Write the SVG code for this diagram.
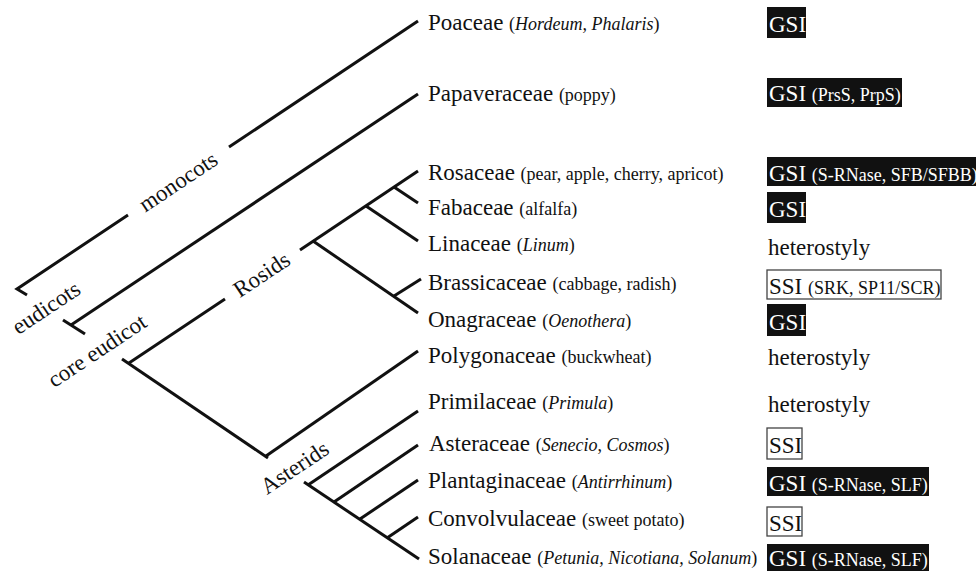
<svg xmlns="http://www.w3.org/2000/svg" width="976" height="571" viewBox="0 0 976 571">
<style>
.t{font-family:"Liberation Serif","Times New Roman",serif;font-size:23px;fill:#111}
.s{font-size:18px}
.i{font-style:italic}
.w{fill:#fff}
.bk{fill:#111}
.ol{fill:#fff;stroke:#444;stroke-width:1.3}
.br{fill:none;stroke:#111;stroke-width:3;stroke-linecap:butt;stroke-linejoin:miter}
</style>
<rect width="976" height="571" fill="#fff"/>
<g id="connectors">
  <polyline class="br" points="27,295 17,289 128,215"/>
  <line class="br" x1="229" y1="147" x2="418" y2="21"/>
  <line class="br" x1="63" y1="320" x2="85" y2="334"/>
  <line class="br" x1="71" y1="325" x2="418" y2="94"/>
  <line class="br" x1="122" y1="359" x2="268" y2="458"/>
  <line class="br" x1="129" y1="363" x2="225" y2="299"/>
  <line class="br" x1="300" y1="250" x2="418" y2="171"/>
  <line class="br" x1="313" y1="241" x2="418" y2="313"/>
  <line class="br" x1="366" y1="206" x2="418" y2="241"/>
  <line class="br" x1="394" y1="187" x2="418" y2="203"/>
  <line class="br" x1="394" y1="296" x2="421" y2="279"/>
  <line class="br" x1="266" y1="456" x2="418" y2="351"/>
  <line class="br" x1="304" y1="482" x2="419" y2="559"/>
  <line class="br" x1="308" y1="485" x2="418" y2="411"/>
  <line class="br" x1="334" y1="502" x2="418" y2="445"/>
  <line class="br" x1="360" y1="519" x2="418" y2="480"/>
  <line class="br" x1="387" y1="538" x2="418" y2="517"/>
</g>
<g id="clade-labels">
  <text class="t" text-anchor="middle" transform="translate(179,183) rotate(-33.7)" y="6">monocots</text>
  <text class="t" text-anchor="middle" transform="translate(47,309) rotate(-33.7)" y="6">eudicots</text>
  <text class="t" text-anchor="middle" transform="translate(98,352) rotate(-33.7)" y="6">core eudicot</text>
  <text class="t" text-anchor="middle" transform="translate(262,275) rotate(-33.7)" y="7">Rosids</text>
  <text class="t" text-anchor="middle" transform="translate(295,468) rotate(-33.7)" y="7">Asterids</text>
</g>
<g id="poaceae"><text class="t" x="428" y="30">Poaceae <tspan class="s">(<tspan class="i">Hordeum, Phalaris</tspan>)</tspan></text>
  <rect class="bk" x="767" y="7" width="39" height="31"/><text class="t w" x="769" y="32">GSI</text></g>
<g id="papaveraceae"><text class="t" x="428" y="101">Papaveraceae <tspan class="s">(poppy)</tspan></text>
  <rect class="bk" x="767" y="78" width="135" height="29"/><text class="t w" x="769" y="101">GSI <tspan class="s">(PrsS, PrpS)</tspan></text></g>
<g id="rosaceae"><text class="t" x="428" y="180">Rosaceae <tspan class="s">(pear, apple, cherry, apricot)</tspan></text>
  <rect class="bk" x="767" y="157" width="215" height="29"/><text class="t w" x="769" y="181">GSI <tspan class="s">(S-RNase, SFB/SFBB)</tspan></text></g>
<g id="fabaceae"><text class="t" x="428" y="215">Fabaceae <tspan class="s">(alfalfa)</tspan></text>
  <rect class="bk" x="767" y="192" width="39" height="31"/><text class="t w" x="769" y="217">GSI</text></g>
<g id="linaceae"><text class="t" x="428" y="251">Linaceae <tspan class="s">(<tspan class="i">Linum</tspan>)</tspan></text>
  <text class="t" x="768" y="255">heterostyly</text></g>
<g id="brassicaceae"><text class="t" x="428" y="290">Brassicaceae <tspan class="s">(cabbage, radish)</tspan></text>
  <rect class="ol" x="767" y="270" width="174" height="29"/><text class="t" x="769" y="294">SSI <tspan class="s">(SRK, SP11/SCR)</tspan></text></g>
<g id="onagraceae"><text class="t" x="428" y="327">Onagraceae <tspan class="s">(<tspan class="i">Oenothera</tspan>)</tspan></text>
  <rect class="bk" x="767" y="304" width="39" height="32"/><text class="t w" x="769" y="330">GSI</text></g>
<g id="polygonaceae"><text class="t" x="428" y="363">Polygonaceae <tspan class="s">(buckwheat)</tspan></text>
  <text class="t" x="768" y="365">heterostyly</text></g>
<g id="primilaceae"><text class="t" x="428" y="409">Primilaceae <tspan class="s">(<tspan class="i">Primula</tspan>)</tspan></text>
  <text class="t" x="768" y="412">heterostyly</text></g>
<g id="asteraceae"><text class="t" x="429" y="451">Asteraceae <tspan class="s">(<tspan class="i">Senecio</tspan>, <tspan class="i">Cosmos</tspan>)</tspan></text>
  <rect class="ol" x="767" y="428" width="35" height="31"/><text class="t" x="769" y="453">SSI</text></g>
<g id="plantaginaceae"><text class="t" x="428" y="488">Plantaginaceae <tspan class="s">(<tspan class="i">Antirrhinum</tspan>)</tspan></text>
  <rect class="bk" x="767" y="467" width="162" height="29"/><text class="t w" x="769" y="491">GSI <tspan class="s">(S-RNase, SLF)</tspan></text></g>
<g id="convolvulaceae"><text class="t" x="428" y="526">Convolvulaceae <tspan class="s">(sweet potato)</tspan></text>
  <rect class="ol" x="767" y="507" width="35" height="29"/><text class="t" x="769" y="531">SSI</text></g>
<g id="solanaceae"><text class="t" x="428" y="564">Solanaceae <tspan class="s">(<tspan class="i">Petunia, Nicotiana, Solanum</tspan>)</tspan></text>
  <rect class="bk" x="767" y="544" width="162" height="32"/><text class="t w" x="769" y="566">GSI <tspan class="s">(S-RNase, SLF)</tspan></text></g>
</svg>
